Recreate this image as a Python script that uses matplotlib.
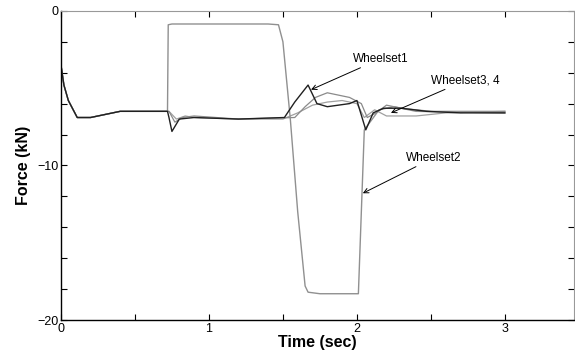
import matplotlib
matplotlib.use("Agg")
import matplotlib.pyplot as plt

plt.rcParams['font.family'] = ['Liberation Sans', 'DejaVu Sans']

# Data
t1 = [0, 0.02, 0.05, 0.11, 0.2, 0.4, 0.6, 0.72, 0.73, 0.75, 0.8, 0.9, 1.2, 1.51, 1.58, 1.67,
      1.73, 1.8, 1.95, 2.0, 2.06, 2.11, 2.18, 2.3, 2.47, 2.7, 3.0]
w1 = [-3.5, -4.8, -5.8, -6.9, -6.9, -6.5, -6.5, -6.5, -6.9, -7.8, -7.0, -6.9, -7.0, -6.9, -5.9, -4.8,
      -6.0, -6.2, -6.0, -5.8, -7.7, -6.6, -6.3, -6.3, -6.5, -6.6, -6.6]

t2 = [0, 0.02, 0.05, 0.11, 0.2, 0.4, 0.6, 0.72, 0.725, 0.75, 1.0, 1.4, 1.47, 1.5, 1.55, 1.6, 1.65,
      1.67, 1.75, 2.0, 2.01, 2.05, 2.15, 2.25, 2.4, 3.0]
w2 = [-3.5, -4.8, -5.8, -6.9, -6.9, -6.5, -6.5, -6.5, -0.9, -0.85, -0.85, -0.85, -0.9, -2.0, -7.0, -13.0, -17.8,
      -18.2, -18.3, -18.3, -18.3, -7.7, -6.4, -6.2, -6.5, -6.6]

t3 = [0, 0.02, 0.05, 0.11, 0.2, 0.4, 0.6, 0.73, 0.77, 0.82, 0.9, 1.2, 1.58, 1.65, 1.72, 1.8, 1.9, 1.95,
      2.03, 2.07, 2.13, 2.2, 2.3, 2.5, 3.0]
w3 = [-3.5, -4.8, -5.8, -6.9, -6.9, -6.5, -6.5, -6.5, -7.2, -6.9, -6.8, -7.0, -6.9, -6.2, -5.6, -5.3, -5.5, -5.6,
      -6.0, -6.9, -6.6, -6.1, -6.3, -6.5, -6.5]

t4 = [0, 0.02, 0.05, 0.11, 0.2, 0.4, 0.6, 0.73, 0.78, 0.84, 0.9, 1.2, 1.5, 1.6, 1.7, 1.8, 1.9, 2.0,
      2.05, 2.12, 2.2, 2.25, 2.4, 2.6, 3.0]
w4 = [-3.5, -4.8, -5.8, -6.9, -6.9, -6.5, -6.5, -6.5, -7.0, -6.8, -6.9, -7.0, -7.0, -6.6, -6.1, -5.9, -5.8, -6.0,
      -6.9, -6.4, -6.8, -6.8, -6.8, -6.6, -6.5]

xticks_major = [0, 1, 2, 3]
yticks_major = [0, -10, -20]

fig = plt.figure(figsize=(5.75, 3.62), dpi=100)
ax = fig.add_axes([0.106, 0.116, 0.893, 0.854])

ax.plot(t4, w4, color='#a0a0a0', lw=0.9)
ax.plot(t3, w3, color='#8a8a8a', lw=0.9)
ax.plot(t2, w2, color='#909090', lw=1.0)
ax.plot(t1, w1, color='#202020', lw=1.0)

ax.set_xlim(0, 3.47)
ax.set_ylim(-20, 0)
ax.set_xticks(xticks_major)
ax.set_yticks(yticks_major)
ax.set_xticks([0.5, 1.5, 2.5], minor=True)
ax.set_yticks([-2, -4, -6, -8, -12, -14, -16, -18], minor=True)
ax.tick_params(which='both', direction='in', top=True, right=True, length=4, width=0.8,
               labelsize=9, pad=2)
for s in ['top', 'right']:
    ax.spines[s].set_color('#999999')
    ax.spines[s].set_linewidth(0.8)
for s in ['left', 'bottom']:
    ax.spines[s].set_linewidth(1.0)

ax.set_xlabel('Time (sec)', fontsize=11.5, fontweight='bold', labelpad=0)
ax.set_ylabel('Force (kN)', fontsize=11.5, fontweight='bold', labelpad=4)

ap = dict(arrowstyle='->', color='black', lw=0.7, shrinkA=0, shrinkB=0)
ax.annotate('Wheelset1', xy=(1.69, -5.1), xytext=(1.97, -3.5), fontsize=8.5,
            arrowprops=ap, va='bottom', ha='left')
ax.annotate('Wheelset3, 4', xy=(2.23, -6.6), xytext=(2.5, -4.9), fontsize=8.5,
            arrowprops=ap, va='bottom', ha='left')
ax.annotate('Wheelset2', xy=(2.04, -11.8), xytext=(2.33, -9.9), fontsize=8.5,
            arrowprops=ap, va='bottom', ha='left')

fig.savefig('out.png', dpi=100)
